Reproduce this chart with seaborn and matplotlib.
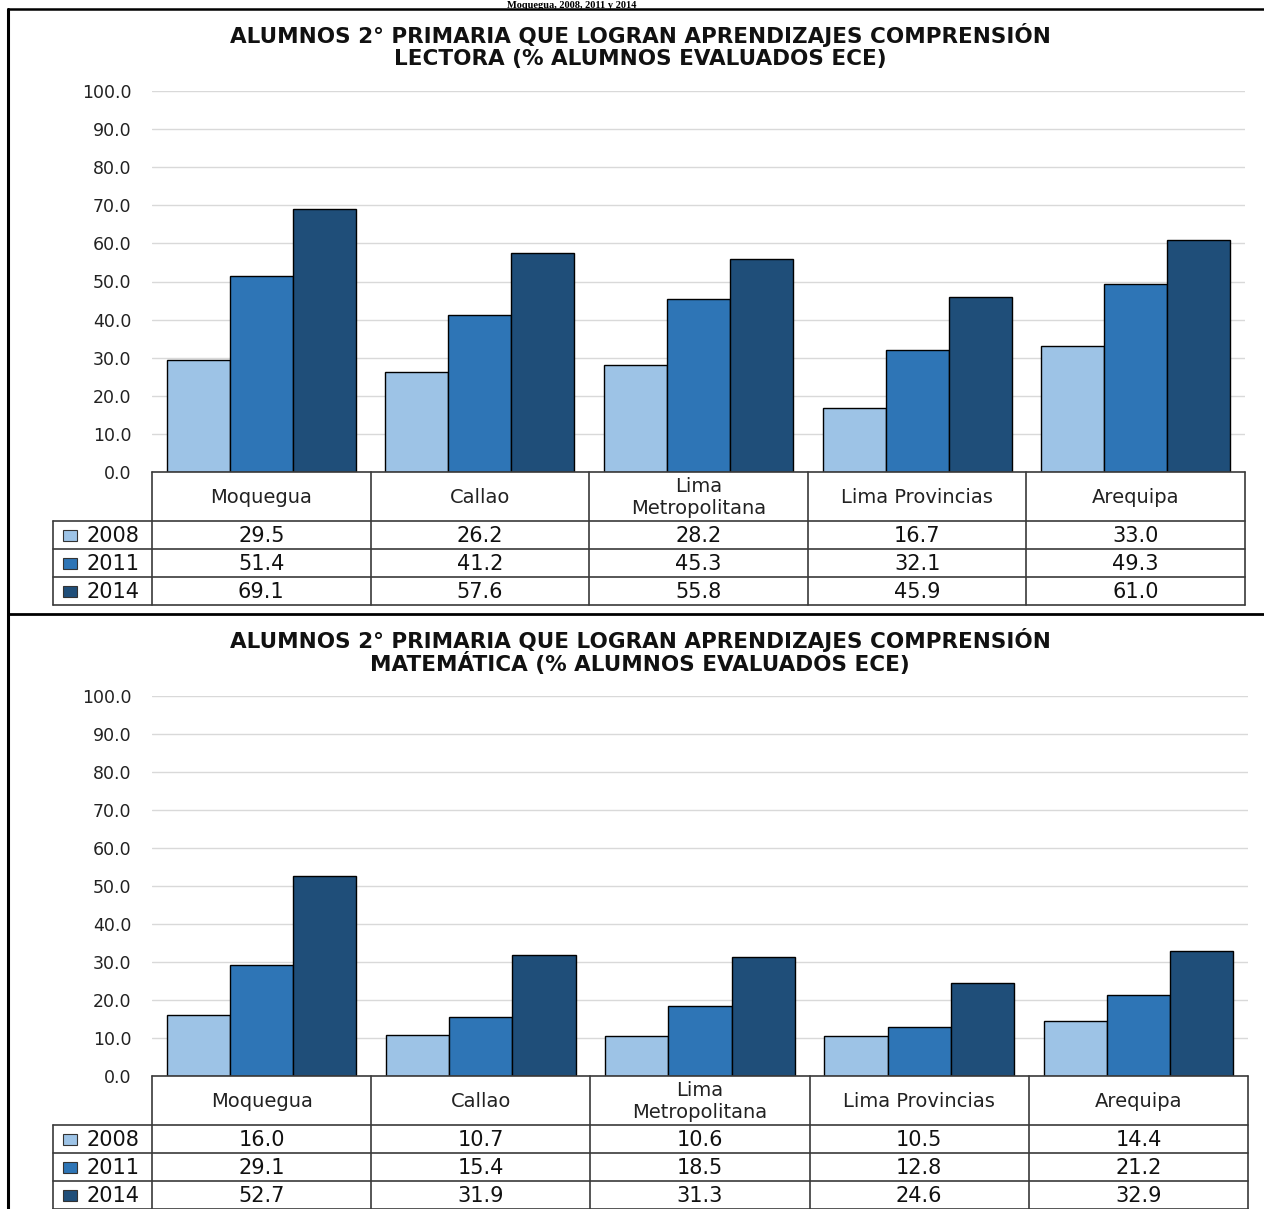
import numpy as np
import pandas as pd
import matplotlib
matplotlib.use('Agg')
import matplotlib.pyplot as plt
import seaborn as sns

# data
regions = ['Moquegua', 'Callao', 'Lima\nMetropolitana', 'Lima Provincias', 'Arequipa']
years = ['2008', '2011', '2014']

lectora_2008 = [29.5, 26.2, 28.2, 16.7, 33.0]
lectora_2011 = [51.4, 41.2, 45.3, 32.1, 49.3]
lectora_2014 = [69.1, 57.6, 55.8, 45.9, 61.0]

mate_2008 = [16.0, 10.7, 10.6, 10.5, 14.4]
mate_2011 = [29.1, 15.4, 18.5, 12.8, 21.2]
mate_2014 = [52.7, 31.9, 31.3, 24.6, 32.9]

title_top = ['ALUMNOS 2° PRIMARIA QUE LOGRAN APRENDIZAJES COMPRENSIÓN',
             'LECTORA (% ALUMNOS EVALUADOS ECE)']
title_bottom = ['ALUMNOS 2° PRIMARIA QUE LOGRAN APRENDIZAJES COMPRENSIÓN',
                'MATEMÁTICA (% ALUMNOS EVALUADOS ECE)']
header_text = 'Moquegua, 2008, 2011 y 2014'

colors = ['#9DC3E6', '#2E75B6', '#1F4E79']

sns.set_style('white')
plt.rcParams['font.family'] = ['DejaVu Sans']

W, H = 1264, 1209
fig = plt.figure(figsize=(W / 100, H / 100), dpi=100)

# overlay axes in pixel coordinates for frame and table
ov = fig.add_axes([0, 0, 1, 1], zorder=5)
ov.set_xlim(0, W)
ov.set_ylim(H, 0)
ov.axis('off')
ov.patch.set_alpha(0)

LINE = '#3a3a3a'


def px_axes(x0, y0, x1, y1):
    return fig.add_axes([x0 / W, 1 - y1 / H, (x1 - x0) / W, (y1 - y0) / H])


def draw_panel(title, series, title_y, x0, x1, y_top, y_zero):
    df = pd.DataFrame({
        'region': regions * len(years),
        'year': np.repeat(years, len(regions)),
        'value': np.concatenate(series),
    })
    ax = px_axes(x0, y_top, x1, y_zero)
    sns.barplot(data=df, x='region', y='value', hue='year', palette=colors,
                width=0.865, saturation=1, edgecolor='black', linewidth=1,
                legend=False, ax=ax)
    ax.set_ylim(0, 100)
    ax.set_xlim(-0.5, len(regions) - 0.5)
    ax.set_yticks(np.arange(0, 101, 10))
    ax.set_yticklabels([f'{v:.1f}' for v in np.arange(0, 101, 10)])
    ax.set_xticks([])
    ax.set_xlabel('')
    ax.set_ylabel('')
    ax.grid(axis='y', color='#d9d9d9', lw=1)
    ax.set_axisbelow(True)
    for s in ax.spines.values():
        s.set_visible(False)
    ax.tick_params(axis='y', length=0, pad=15, labelsize=12.5, colors='#222222')

    # title
    for i, line in enumerate(title):
        ov.text(640, title_y + i * 24, line, ha='center', va='center',
                fontsize=15.5, fontweight='bold', color='#111111')

    # data table
    n = len(regions)
    cw = (x1 - x0) / n
    head_h, row_h = 49, 28
    lab_x0 = 53
    y_head = y_zero + head_h
    y_end = y_head + row_h * len(years)
    ov.plot([x0, x1], [y_zero, y_zero], color=LINE, lw=1.2)
    for i in range(n + 1):
        xx = x0 + i * cw
        ov.plot([xx, xx], [y_zero, y_end], color=LINE, lw=1.2)
    for r in range(len(years) + 1):
        yy = y_head + r * row_h
        ov.plot([lab_x0, x1], [yy, yy], color=LINE, lw=1.2)
    ov.plot([lab_x0, lab_x0], [y_head, y_end], color=LINE, lw=1.2)
    for i, name in enumerate(regions):
        ov.text(x0 + (i + 0.5) * cw, y_zero + head_h / 2 + 1, name, ha='center',
                va='center', fontsize=14, color='#222222', linespacing=1.15)
    for r, (yr, vals) in enumerate(zip(years, series)):
        yc = y_head + (r + 0.5) * row_h
        ov.add_patch(plt.Rectangle((63, yc - 5.5), 14, 11, facecolor=colors[r],
                                   edgecolor='#333333', lw=0.8))
        ov.text(87, yc + 1, yr, ha='left', va='center', fontsize=15,
                color='#111111')
        for i, v in enumerate(vals):
            ov.text(x0 + (i + 0.5) * cw, yc + 1, f'{v:.1f}', ha='center',
                    va='center', fontsize=15, color='#111111')


draw_panel(title_top, [lectora_2008, lectora_2011, lectora_2014],
           35, 152, 1245, 91, 472)
draw_panel(title_bottom, [mate_2008, mate_2011, mate_2014],
           640, 152, 1248, 696, 1076)

# caption above the frame and outer frame
ov.text(572, 7.5, header_text, ha='center', va='baseline', fontsize=7.5,
        fontweight='bold', family='Liberation Serif', color='black')
ov.plot([8, W], [9, 9], color='black', lw=1.8)
ov.plot([8, 8], [9, H], color='black', lw=2.2)
ov.plot([8, W], [614, 614], color='black', lw=2)

fig.savefig('out.png', dpi=100)
